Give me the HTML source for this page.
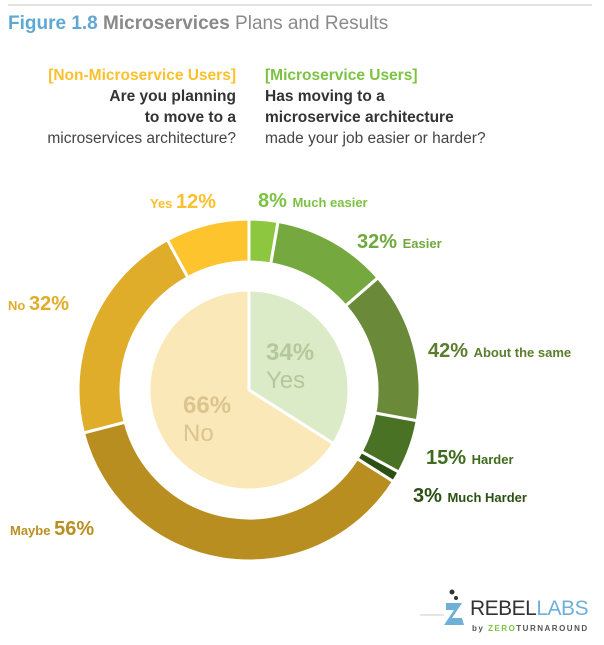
<!DOCTYPE html>
<html><head><meta charset="utf-8"><style>
body{margin:0;background:#fff;width:604px;height:640px;overflow:hidden;font-family:"Liberation Sans",sans-serif}
</style></head><body>
<svg width="604" height="640" xmlns="http://www.w3.org/2000/svg">
<line x1="8" y1="5" x2="592" y2="5" stroke="#d8d8d8" stroke-width="1.5"/>
<text x="8" y="29" font-size="19"><tspan font-weight="bold" fill="#5fa8d3">Figure 1.8 </tspan><tspan font-weight="bold" fill="#8a8a8a">Microservices</tspan><tspan fill="#8a8a8a"> Plans and Results</tspan></text>
<g font-size="15.5" text-anchor="end">
<text x="236" y="80" font-weight="bold" fill="#fbc02d">[Non-Microservice Users]</text>
<text x="236" y="101" font-weight="bold" fill="#333">Are you planning</text>
<text x="236" y="122" font-weight="bold" fill="#333">to move to a</text>
<text x="236" y="143" fill="#444">microservices architecture?</text>
</g>
<g font-size="15.5">
<text x="265" y="80" font-weight="bold" fill="#7dc242">[Microservice Users]</text>
<text x="265" y="101" font-weight="bold" fill="#333">Has moving to a</text>
<text x="265" y="122" font-weight="bold" fill="#333">microservice architecture</text>
<text x="265" y="143" fill="#444">made your job easier or harder?</text>
</g>
<g id="chart"></g>
<g font-weight="bold">
<text x="150" y="208" fill="#fbc02d"><tspan font-size="13">Yes </tspan><tspan font-size="20">12%</tspan></text>
<text x="258" y="207" fill="#7dc242"><tspan font-size="20">8% </tspan><tspan font-size="13">Much easier</tspan></text>
<text x="357" y="248" fill="#6fa83c"><tspan font-size="20">32% </tspan><tspan font-size="13">Easier</tspan></text>
<text x="428" y="357" fill="#5a7d2e"><tspan font-size="20">42% </tspan><tspan font-size="13">About the same</tspan></text>
<text x="426" y="464" fill="#3f6b1e"><tspan font-size="20">15% </tspan><tspan font-size="13">Harder</tspan></text>
<text x="413" y="502" fill="#2c4f14"><tspan font-size="20">3% </tspan><tspan font-size="13">Much Harder</tspan></text>
<text x="8" y="310" fill="#dfad2a"><tspan font-size="13">No </tspan><tspan font-size="20">32%</tspan></text>
<text x="10" y="535" fill="#b89021"><tspan font-size="13">Maybe </tspan><tspan font-size="20">56%</tspan></text>
<text x="266" y="360" font-size="24" fill="#b3c99b">34%</text>
<text x="266" y="388" font-size="24" font-weight="normal" fill="#b3c99b">Yes</text>
<text x="183" y="413" font-size="24" fill="#dcc48e">66%</text>
<text x="183" y="441" font-size="24" font-weight="normal" fill="#dcc48e">No</text>
</g>
<g>
<line x1="420" y1="615" x2="444" y2="615" stroke="#ccc"/>
<circle cx="452" cy="592" r="2.5" fill="#333"/><circle cx="456" cy="598" r="2" fill="#333"/>
<path d="M446 603 L462 603 L452 618 L462 618 L464 625 L444 625 L454 610 L446 610 Z" fill="#6fb0d8"/>
<text x="470" y="615" font-size="21" fill="#333" letter-spacing="-0.5">REBEL<tspan fill="#6fb0d8">LABS</tspan></text>
<text x="472" y="631" font-size="8" font-weight="bold" fill="#555" letter-spacing="1.5">by <tspan fill="#7dc242">ZERO</tspan>TURNAROUND</text>
</g>
</svg>
<script>
const innerLabels=["Yes","No"];
const innerValues=[34,66];
const greenCats=["Much easier","Easier","About the same","Harder","Much Harder"];
const greenValues=[8,32,42,15,3];
const yellowCats=["Maybe","No","Yes"];
const yellowValues=[56,32,12];
const cx=249,cy=390,R=171,r=128,pr=100;
const NS="http://www.w3.org/2000/svg";
const g=document.getElementById('chart');
function pt(a,rad){const t=(a-90)*Math.PI/180;return [cx+rad*Math.cos(t),cy+rad*Math.sin(t)];}
function arc(a0,a1,ro,ri){const L=(a1-a0)>180?1:0;const p0=pt(a0,ro),p1=pt(a1,ro);
 if(ri===0){return `M${cx},${cy}L${p0}A${ro},${ro} 0 ${L} 1 ${p1}Z`;}
 const q1=pt(a1,ri),q0=pt(a0,ri);
 return `M${p0}A${ro},${ro} 0 ${L} 1 ${p1}L${q1}A${ri},${ri} 0 ${L} 0 ${q0}Z`;}
function add(d,fill,name){const p=document.createElementNS(NS,'path');p.setAttribute('d',d);p.setAttribute('fill',fill);p.setAttribute('stroke','#fff');p.setAttribute('stroke-width','3');


g.appendChild(p);}
const yesAng=innerValues[0]/100*360;
add(arc(0,yesAng,pr,0),'#dbeac7','pie-slice-yes');
add(arc(yesAng,360,pr,0),'#fbe8b8','pie-slice-no');
const gc=['#8dc63f','#76a840','#6a8a3a','#4a7225','#2c4f14'];
let a=0;const gs=greenValues.reduce((s,v)=>s+v,0);
greenValues.forEach((v,i)=>{const b=a+v/gs*yesAng;add(arc(a,b,R,r),gc[i],'ring-'+greenCats[i].toLowerCase().replace(/ /g,'-'));a=b;});
const yc=['#b88e20','#dfad2a','#fdc42e'];const ys=yellowValues.reduce((s,v)=>s+v,0);
yellowValues.forEach((v,i)=>{const b=a+v/ys*(360-yesAng);add(arc(a,b,R,r),yc[i],'ring-'+yellowCats[i].toLowerCase());a=b;});
</script>
</body></html>
